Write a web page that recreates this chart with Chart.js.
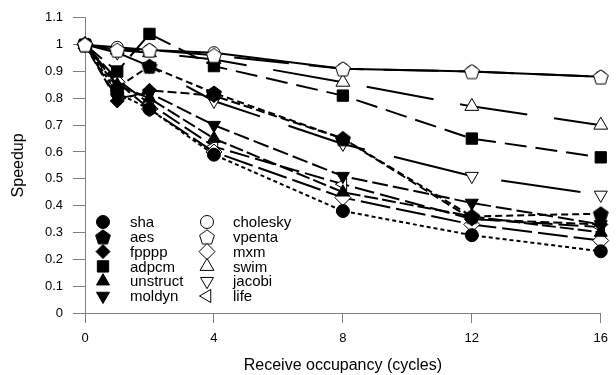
<!DOCTYPE html>
<html>
<head>
<meta charset="utf-8">
<script src="https://cdn.jsdelivr.net/npm/chart.js@4.4.1/dist/chart.umd.min.js"></script>
<style>
  html, body { margin: 0; padding: 0; background: #fff; }
  #wrap { width: 616px; height: 375px; }
</style>
</head>
<body>
<div id="wrap"><canvas id="c" width="616" height="375"></canvas></div>
<script>
// ---- data ----
const cycles = [0, 1, 2, 4, 8, 12, 16];

const sha      = [1, 0.82, 0.76, 0.59, 0.38, 0.29, 0.23];
const aes      = [1, 0.84, 0.92, 0.82, 0.65, 0.36, 0.37];
const fpppp    = [1, 0.79, 0.83, 0.81, 0.65, 0.35, 0.33];
const adpcm    = [1, 0.90, 1.04, 0.92, 0.81, 0.65, 0.58];
const unstruct = [1, 0.85, 0.80, 0.65, 0.45, 0.36, 0.30];
const moldyn   = [1, 0.80, 0.82, 0.70, 0.51, 0.41, 0.33];
const cholesky = [1, 0.99, 0.98, 0.97, 0.91, 0.90, 0.88];
const vpenta   = [1, 0.98, 0.98, 0.96, 0.91, 0.90, 0.88];
const mxm      = [1, 0.86, 0.76, 0.60, 0.43, 0.33, 0.27];
const swim     = [1, 0.98, 0.97, 0.945, 0.86, 0.77, 0.70];
const jacobi   = [1, 0.97, 0.92, 0.79, 0.63, 0.51, 0.44];
const life     = [1, 0.87, 0.78, 0.62, 0.48, 0.35, 0.32];

const xTicks = [0, 4, 8, 12, 16];

// pentagon marker (no built-in one in Chart.js)
function pentagon(filled) {
  const s = 18, c = document.createElement("canvas");
  c.width = s; c.height = s;
  const g = c.getContext("2d");
  g.beginPath();
  for (let i = 0; i < 5; i++) {
    const a = -Math.PI / 2 + i * 2 * Math.PI / 5;
    const px = s / 2 + 7.8 * Math.cos(a), py = s / 2 + 0.8 + 7.8 * Math.sin(a);
    i ? g.lineTo(px, py) : g.moveTo(px, py);
  }
  g.closePath();
  g.fillStyle = filled ? "#000" : "#fff";
  g.fill();
  g.lineWidth = 1;
  g.strokeStyle = "#000";
  g.stroke();
  return c;
}

function series(label, data, style, filled, dash, rot, r) {
  return {
    label, data: data.map((y, i) => ({ x: cycles[i], y })),
    pointStyle: style, pointRotation: rot || 0, pointRadius: r || 6.5,
    pointBackgroundColor: filled ? "#000" : "#fff", pointBorderColor: "#000",
    pointBorderWidth: 1, borderColor: "#000", borderWidth: 2,
    borderDash: dash, fill: false, tension: 0, clip: false
  };
}

const datasets = [
  series("sha", sha, "circle", true, [4, 3]),
  series("aes", aes, pentagon(true), true, [7, 4]),
  series("fpppp", fpppp, "rectRot", true, [9, 4], 0, 7),
  series("adpcm", adpcm, "rect", true, [22, 9], 0, 8),
  series("unstruct", unstruct, "triangle", true, [14, 4], 0, 7.5),
  series("moldyn", moldyn, "triangle", true, [16, 5], 180, 7.5),
  series("cholesky", cholesky, "circle", false, [], 0, 6),
  series("vpenta", vpenta, pentagon(false), false, [55, 20]),
  series("mxm", mxm, "rectRot", false, [30, 6], 0, 8),
  series("swim", swim, "triangle", false, [68, 27], 0, 8),
  series("jacobi", jacobi, "triangle", false, [80, 30], 180, 7.5),
  series("life", life, "triangle", false, [20, 6], -90, 7.5)
];
// vpenta sits on top of cholesky where they overlap
datasets[7].order = -1;

// legend in two columns inside the plot
const insideLegend = {
  id: "insideLegend",
  afterDraw(chart) {
    const ctx = chart.ctx;
    const cols = [{ mx: 103, tx: 130 }, { mx: 207, tx: 233 }];
    ctx.save();
    ctx.font = "15px 'Liberation Sans', Arial, sans-serif";
    ctx.textBaseline = "middle";
    chart.data.datasets.forEach((ds, i) => {
      const col = cols[Math.floor(i / 6)];
      const y = 222 + (i % 6) * 14.8;
      ctx.fillStyle = ds.pointBackgroundColor;
      ctx.strokeStyle = "#000";
      ctx.lineWidth = 1;
      ctx.setLineDash([]);
      Chart.helpers.drawPoint(ctx, {
        pointStyle: ds.pointStyle, rotation: ds.pointRotation,
        radius: ds.pointRadius === 6 ? 6.5 : ds.pointRadius, borderWidth: 1
      }, col.mx, y);
      ctx.fillStyle = "#000";
      ctx.fillText(ds.label, col.tx, y + 1);
    });
    ctx.restore();
  }
};

const font = { family: "'Liberation Sans', Arial, sans-serif", size: 13 };

new Chart(document.getElementById("c"), {
  type: "line",
  data: { datasets },
  plugins: [insideLegend],
  options: {
    responsive: false,
    animation: false,
    layout: { padding: { top: 15, right: 12, left: 0, bottom: 0 } },
    plugins: { legend: { display: false }, tooltip: { enabled: false } },
    scales: {
      x: {
        type: "linear", min: 0, max: 16,
        afterBuildTicks: s => { s.ticks = xTicks.map(v => ({ value: v })); },
        afterFit: s => { s.height = 62; },
        grid: { drawOnChartArea: false, drawTicks: true, tickLength: 10, color: "#808080" },
        border: { color: "#808080", width: 1 },
        ticks: { color: "#000", font, padding: 8, maxRotation: 0 },
        title: { display: true, text: "Receive occupancy (cycles)", color: "#000",
                 font: { family: font.family, size: 16 }, padding: { top: 2, bottom: 0 } }
      },
      y: {
        min: 0, max: 1.1,
        afterFit: s => { s.width = 85; },
        grid: { drawOnChartArea: false, drawTicks: true, tickLength: 12, color: "#808080" },
        border: { color: "#808080", width: 1 },
        ticks: { stepSize: 0.1, color: "#000", font, padding: 10,
                 callback: v => String(+v.toFixed(1)) },
        title: { display: true, text: "Speedup", color: "#000",
                 font: { family: font.family, size: 16 }, padding: { top: 9, bottom: 0 } }
      }
    }
  }
});
</script>
</body>
</html>
